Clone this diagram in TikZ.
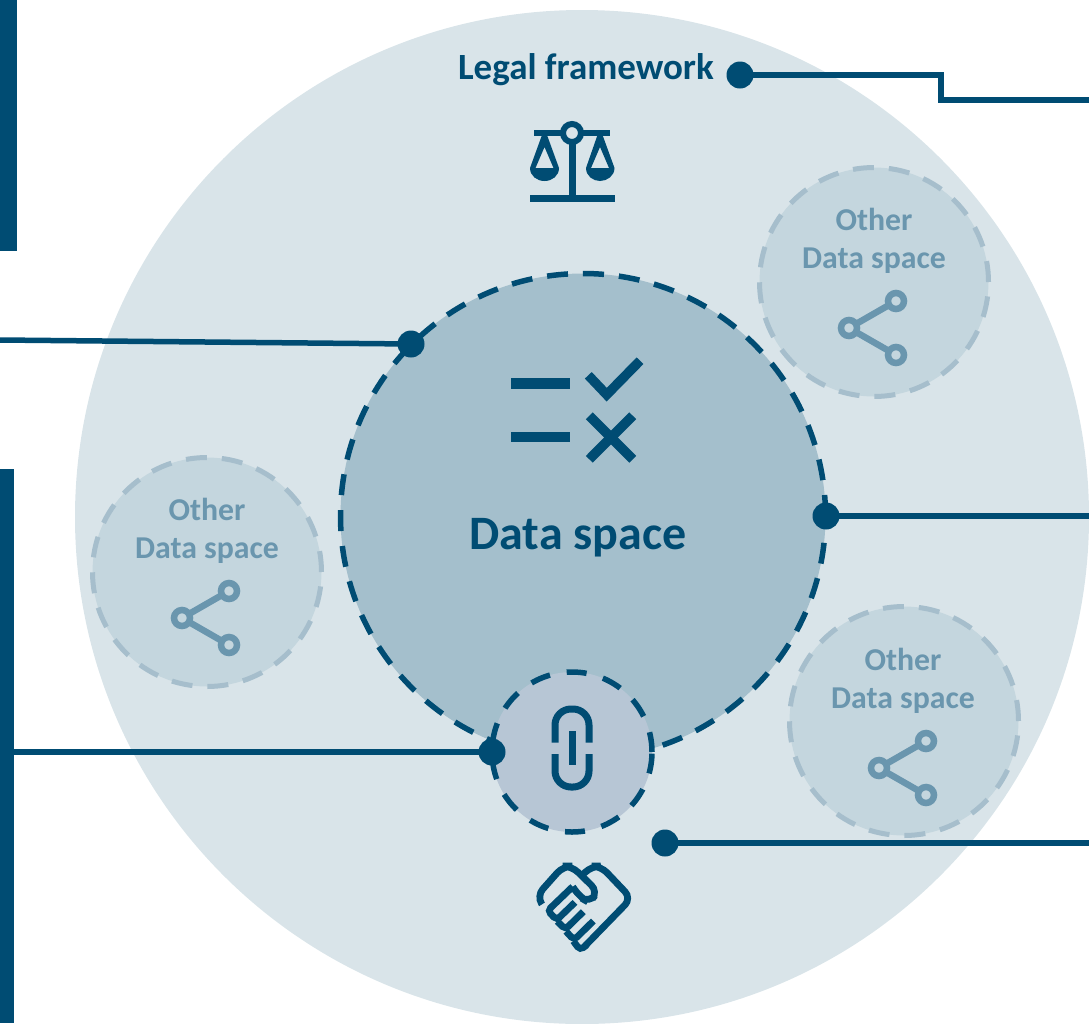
\documentclass[tikz,border=0pt]{standalone}
\usepackage{fontspec}
\setmainfont{Carlito}
\usepackage{xcolor}
\usetikzlibrary{positioning}

\definecolor{darkblue}{HTML}{004C73}
\definecolor{outerfill}{HTML}{D9E4E9}
\definecolor{innerfill}{HTML}{A4BFCC}
\definecolor{otherfill}{HTML}{C4D6DE}
\definecolor{otherdash}{HTML}{A6BECC}
\definecolor{othertext}{HTML}{6A96AE}
\definecolor{linkfill}{HTML}{B7C6D5}

\tikzset{
  space/.style={circle, inner sep=0pt, outer sep=0pt},
  otherspace/.style={space, fill=otherfill, draw=otherdash, line width=5pt,
    dash pattern=on 21pt off 15pt, minimum size=229pt},
  otherlabel/.style={text=othertext, font=\bfseries\fontsize{31.8}{38.5}\selectfont, align=center, inner sep=0pt},
  dot/.style={circle, fill=darkblue, inner sep=0pt, outer sep=0pt, minimum size=27pt},
  wire/.style={draw=darkblue, line width=5.5pt},
  icon/.style={draw=darkblue, line width=7pt},
  shake/.style={draw=darkblue, line width=6.8pt},
  shareicon/.pic={
    \draw[othertext, line width=6.5pt] (22,19) -- (-25,46) -- (22,73);
    \draw[othertext, line width=6.5pt, fill=otherfill] (22,19) circle (8pt);
    \draw[othertext, line width=6.5pt, fill=otherfill] (-25,46) circle (8pt);
    \draw[othertext, line width=6.5pt, fill=otherfill] (22,73) circle (8pt);
  }
}

\begin{document}
\begin{tikzpicture}[x=1pt,y=-1pt]
  \useasboundingbox (0,0) rectangle (1089,1023);

  % side bars
  \fill[darkblue] (0,0) rectangle (17,251);
  \fill[darkblue] (0,469) rectangle (14,1023);

  % circles
  \fill[outerfill] (582,517) circle (507pt);
  \node (other1) [otherspace] at (874,282) {};
  \node (other2) [otherspace] at (207,572) {};
  \node (other3) [otherspace] at (904,721) {};
  \node (dataspace) [space, fill=innerfill, draw=darkblue, line width=5.5pt,
    dash pattern=on 21pt off 15pt, minimum size=485pt] at (583,516) {};
  \node (linkspace) [space, fill=linkfill, draw=darkblue, line width=5.5pt,
    dash pattern=on 20pt off 17pt, minimum size=160pt] at (572,752) {};

  % labels
  \node (legal) [text=darkblue, font=\bfseries\fontsize{37}{40}\selectfont, inner sep=0pt] at (586,70) {Legal framework};
  \node (datalabel) [text=darkblue, font=\bfseries\fontsize{48}{50}\selectfont, inner sep=0pt] at (578,538) {Data space};
  \node (otherlabel1) [otherlabel] at (874,241) {Other\\Data space};
  \node (otherlabel2) [otherlabel] at (207,531) {Other\\Data space};
  \node (otherlabel3) [otherlabel] at (903,681) {Other\\Data space};

  % share icons
  \pic at (874,282) {shareicon};
  \pic at (207,572) {shareicon};
  \pic at (904,722) {shareicon};

  % scales
  \fill[darkblue] (534,129.5) rectangle (610,136);
  \fill[darkblue] (568.8,133) rectangle (575.6,198);
  \fill[darkblue] (530,195) rectangle (615,202);
  \draw[darkblue, line width=6pt, fill=outerfill] (572,133) circle (9pt);
  \fill[darkblue, even odd rule] (542,135) -- (547,135) -- (559,168) .. controls (559,176) and (552,181) .. (544.5,181)
    .. controls (537,181) and (530,176) .. (530,168) -- cycle
    (544.5,147) -- (535.5,168) -- (553.5,168) -- cycle;
  \fill[darkblue, even odd rule] (597.5,135) -- (602.5,135) -- (614.5,168) .. controls (614.5,176) and (607,181) .. (600,181)
    .. controls (593,181) and (586,176) .. (586,168) -- cycle
    (600,147) -- (591,168) -- (609,168) -- cycle;

  % check and cross
  \fill[darkblue] (511,378) rectangle (570,389);
  \fill[darkblue] (511,432) rectangle (570,442);
  \draw[darkblue, line width=9.5pt] (588.3,375.3) -- (606.7,394.7) -- (640,360.7);
  \draw[darkblue, line width=9.7pt] (589.3,415.7) -- (632.7,459.3);
  \draw[darkblue, line width=9.7pt] (632.7,415.7) -- (589.3,459.3);

  % chain link
  \draw[icon, rounded corners=16pt] (555,742.7) -- (555,709) -- (589,709) -- (589,742.7);
  \draw[icon, rounded corners=16pt] (555,754) -- (555,787) -- (589,787) -- (589,754);
  \draw[darkblue, line width=7pt] (572,731) -- (572,765);

  % handshake
  \begin{scope}[shift={(530,860)}, scale=1/3]
    \draw[shake, rounded corners=9pt] (36,133) -- (20,108) -- (100,18) -- (125,18) -- (204,95) -- (178,128)
      -- (150,112) -- (128,80);
    \draw[shake, rounded corners=4pt] (128,80) -- (53,152) -- (80,180) -- (135,127);
    \draw[shake, rounded corners=4pt] (160,155) -- (106,208) -- (82,184);
    \draw[shake, rounded corners=4pt] (190,183) -- (132,240) -- (108,214);
    \draw[shake, rounded corners=4pt] (130,243) -- (150,270) -- (170,255);
    \draw[shake, rounded corners=9pt] (165,258) -- (304,115) -- (212,18) -- (185,18) -- (160,42);
  \end{scope}

  % dots
  \node (legaldot) [dot] at (740,75) {};
  \node (datadot) [dot] at (411,344) {};
  \node (rightdot) [dot] at (826,516) {};
  \node (linkdot) [dot] at (492,752) {};
  \node (trustdot) [dot] at (665,843) {};

  \coordinate (legalbend) at (941,100);
  \coordinate (legalend) at (1089,100);
  \coordinate (dataend) at (0,340);
  \coordinate (rightend) at (1089,516);
  \coordinate (linkend) at (14,752);
  \coordinate (trustend) at (1089,843);

  % connectors
  \draw[wire] (legaldot.center) -| (legalbend) -- (legalend);
  \draw[wire] (datadot.center) -- (dataend);
  \draw[wire] (rightdot.center) -- (rightend);
  \draw[wire] (linkdot.center) -- (linkend);
  \draw[wire] (trustdot.center) -- (trustend);
\end{tikzpicture}
\end{document}
